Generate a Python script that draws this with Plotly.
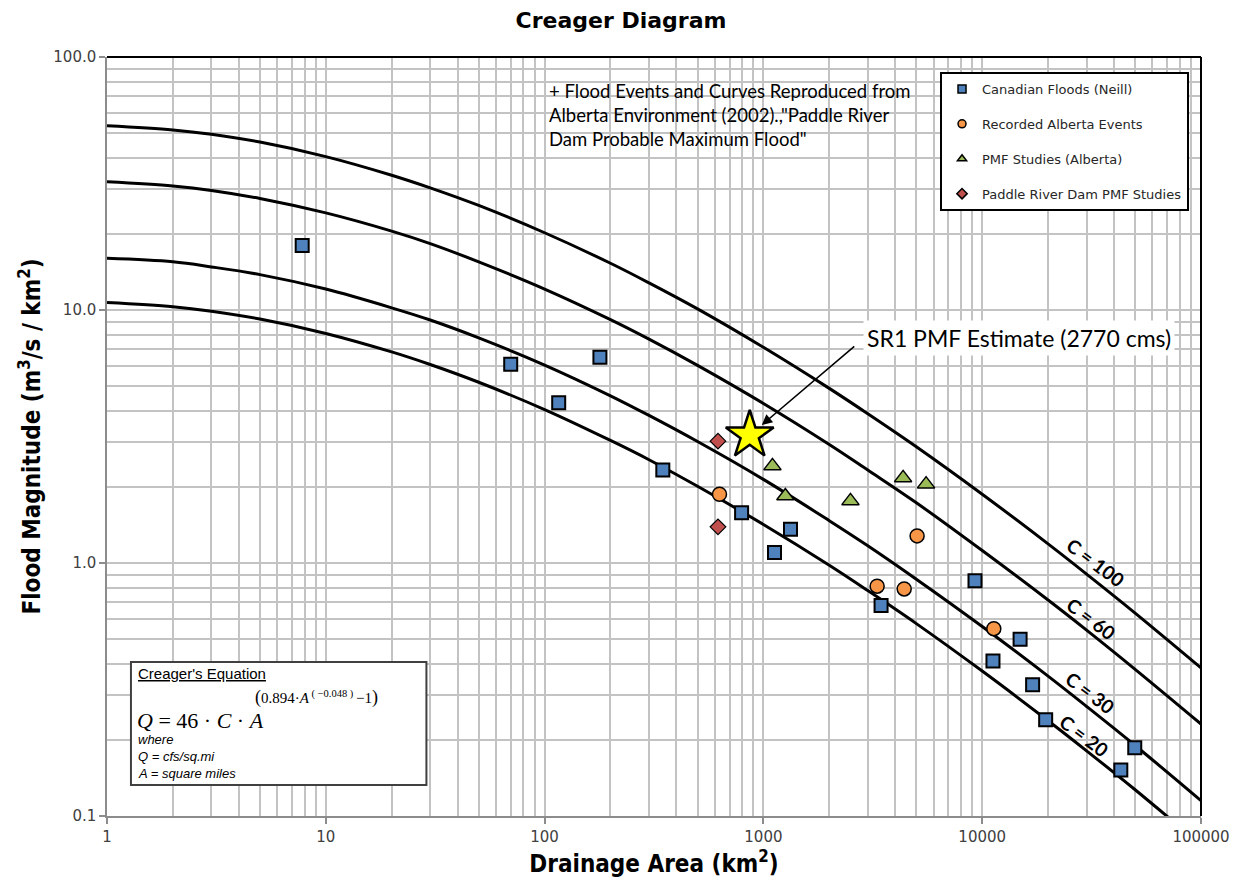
import plotly.graph_objects as go

# ---------------- data ----------------
# Creager envelope curves (m3/s/km2) read at these drainage areas (km2)
curve_area = [1, 2, 3, 5, 10, 20, 30, 50, 100, 200, 300, 500, 1000, 2000, 3000,
              5000, 10000, 20000, 30000, 50000, 100000]
curve_c100 = [53.5, 51.5, 49.5, 46.1, 40.4, 34.1, 30.4, 25.9, 20.2, 15.3, 12.8, 10.1,
              7.12, 4.90, 3.89, 2.88, 1.87, 1.19, 0.904, 0.634, 0.385]
curve_c60 = [32.1, 30.9, 29.7, 27.6, 24.2, 20.5, 18.3, 15.5, 12.1, 9.16, 7.67, 6.04,
             4.27, 2.94, 2.33, 1.73, 1.12, 0.714, 0.543, 0.380, 0.231]
curve_c30 = [16.0, 15.5, 14.8, 13.8, 12.1, 10.2, 9.13, 7.76, 6.06, 4.58, 3.83, 3.02,
             2.14, 1.47, 1.17, 0.863, 0.561, 0.357, 0.271, 0.190, 0.115]
curve_c20 = [10.7, 10.3, 9.89, 9.21, 8.08, 6.83, 6.09, 5.18, 4.04, 3.05, 2.56, 2.01,
             1.42, 0.980, 0.778, 0.576, 0.374, 0.238, 0.181, 0.127, 0.0769]
curve_names = ["C = 100", "C = 60", "C = 30", "C = 20"]

canadian_area = [7.8, 70, 116, 179, 347, 795, 1124, 1330, 3450, 9270, 11200, 14900,
                 17000, 19500, 43000, 49800]
canadian_q = [18.0, 6.1, 4.3, 6.5, 2.33, 1.58, 1.10, 1.36, 0.68, 0.85, 0.41, 0.50,
              0.33, 0.24, 0.152, 0.186]

alberta_area = [630, 5040, 3310, 4400, 11300]
alberta_q = [1.87, 1.28, 0.81, 0.79, 0.55]

pmf_area = [1100, 1260, 2500, 4350, 5540]
pmf_q = [2.42, 1.84, 1.76, 2.17, 2.05]

paddle_area = [620, 620]
paddle_q = [3.03, 1.39]

sr1_area = [866]
sr1_q = [3.2]

legend_names = ["Canadian Floods (Neill)", "Recorded Alberta Events",
                "PMF Studies (Alberta)", "Paddle River Dam PMF Studies"]

x_tick_vals = [1, 10, 100, 1000, 10000, 100000]
x_tick_text = ["1", "10", "100", "1000", "10000", "100000"]
y_tick_vals = [0.1, 1, 10, 100]
y_tick_text = ["0.1", "1.0", "10.0", "100.0"]

# ---------------- layout helpers (page pixel coords) ----------------
PAGE_W, PAGE_H = 1242, 888
OFF = 8  # default body margin of the html page
W, H = PAGE_W - OFF, PAGE_H - OFF
L, R, T, B = 107, 1203, 57, 816   # plot area in page pixels


def px(xp):
    return (xp - L) / (R - L)


def py(yp):
    return (B - yp) / (B - T)


minor_vals_x = [k * 10 ** d for d in range(0, 5) for k in range(2, 10)]
minor_vals_y = [k * 10 ** d for d in range(-1, 2) for k in range(2, 10)]

BLUE, ORANGE, GREEN, RED = "#4f81bd", "#f79646", "#9bbb59", "#c0504d"

fig = go.Figure()

for vals in [curve_c100, curve_c60, curve_c30, curve_c20]:
    fig.add_trace(go.Scatter(x=curve_area, y=vals, mode="lines",
                             line=dict(color="black", width=3, shape="spline"),
                             showlegend=False, hoverinfo="skip"))

fig.add_trace(go.Scatter(x=canadian_area, y=canadian_q, mode="markers", showlegend=False,
                         marker=dict(symbol="square", size=13, color=BLUE,
                                     line=dict(color="black", width=2))))
fig.add_trace(go.Scatter(x=alberta_area, y=alberta_q, mode="markers", showlegend=False,
                         marker=dict(symbol="circle", size=14, color=ORANGE,
                                     line=dict(color="black", width=1.5))))
fig.add_trace(go.Scatter(x=pmf_area, y=pmf_q, mode="markers", showlegend=False,
                         marker=dict(symbol="triangle-up", size=15, color=GREEN,
                                     line=dict(color="black", width=1.5))))
fig.add_trace(go.Scatter(x=paddle_area, y=paddle_q, mode="markers", showlegend=False,
                         marker=dict(symbol="diamond", size=12, color=RED,
                                     line=dict(color="black", width=1.2))))
fig.add_trace(go.Scatter(x=sr1_area, y=sr1_q, mode="markers", showlegend=False,
                         marker=dict(symbol="star", size=36, color="#ffff00",
                                     line=dict(color="black", width=2.5))))

# legend-only entries with small symbols
leg_styles = [("square", BLUE, 8), ("circle", ORANGE, 8), ("triangle-up", GREEN, 8),
              ("diamond", RED, 8)]
for i, (name, (sym, col, sz)) in enumerate(zip(legend_names, leg_styles)):
    fig.add_trace(go.Scatter(x=[None], y=[None], mode="markers", name=name,
                             legendgroup="g%d" % i,
                             marker=dict(symbol=sym, size=sz, color=col,
                                         line=dict(color="black", width=1.5))))

GRID = "#c3c3c3"
AXC = "#8c8c8c"
TICKFONT = dict(family="DejaVu Sans", size=15, color="#404040")
TITLEFONT = dict(family="Liberation Sans Narrow, DejaVu Sans Condensed, sans-serif",
                 size=24, color="black")

fig.update_layout(
    width=W, height=H, autosize=False,
    margin=dict(l=L - OFF, r=PAGE_W - R, t=T - OFF, b=PAGE_H - B),
    paper_bgcolor="white", plot_bgcolor="white",
    title=dict(text="<b>Creager Diagram</b>", x=(621 - OFF) / W, xref="container",
               xanchor="center", y=1 - (20 - OFF) / H, yanchor="middle", yref="container",
               font=dict(family="DejaVu Sans", size=22, color="black")),
    xaxis=dict(type="log", range=[0, 5], tickvals=x_tick_vals, ticktext=x_tick_text,
               showgrid=True, gridcolor=GRID, gridwidth=1.5,
               minor=dict(tickvals=minor_vals_x, showgrid=True, gridcolor=GRID,
                          gridwidth=1.5, ticks=""),
               showline=True, linecolor=AXC, linewidth=1.5,
               ticks="outside", ticklen=6, tickcolor=AXC, tickwidth=1.5,
               tickfont=TICKFONT, zeroline=False,
               title=dict(text="<b>Drainage Area (km<sup>2</sup>)</b>", font=TITLEFONT,
                          standoff=8)),
    yaxis=dict(type="log", range=[-1, 2], tickvals=y_tick_vals, ticktext=y_tick_text,
               showgrid=True, gridcolor=GRID, gridwidth=1.5,
               minor=dict(tickvals=minor_vals_y, showgrid=True, gridcolor=GRID,
                          gridwidth=1.5, ticks=""),
               showline=True, linecolor=AXC, linewidth=1.5,
               ticks="outside", ticklen=6, tickcolor=AXC, tickwidth=1.5,
               tickfont=TICKFONT, zeroline=False,
               title=dict(text="<b>Flood Magnitude (m<sup>3</sup>/s / km<sup>2</sup>)</b>",
                          font=TITLEFONT, standoff=6)),
    legend=dict(x=px(1191), y=py(72), xanchor="right", yanchor="top",
                bgcolor="white", bordercolor="black", borderwidth=2,
                font=dict(family="DejaVu Sans", size=13, color="#262626"),
                traceorder="grouped", tracegroupgap=15, itemwidth=30),
    showlegend=True,
)

# plot-area frame (top and right)
fig.add_shape(type="line", xref="paper", yref="paper", x0=0, x1=1, y0=1, y1=1,
              line=dict(color="black", width=2))
fig.add_shape(type="line", xref="paper", yref="paper", x0=1, x1=1, y0=0, y1=1,
              line=dict(color="black", width=2))

# curve labels
curve_label_pos = [(1098, 562), (1093, 618), (1092, 692), (1086, 735)]
for name, (xp, yp) in zip(curve_names, curve_label_pos):
    fig.add_annotation(text="<b>%s</b>" % name, xref="paper", yref="paper",
                       x=px(xp), y=py(yp), xanchor="center", yanchor="middle",
                       showarrow=False, textangle=37,
                       font=dict(family="Lato", size=19, color="black"))

# source note
fig.add_annotation(text="+ Flood Events and Curves Reproduced from<br>"
                        "Alberta Environment (2002).,\"Paddle River<br>"
                        "Dam Probable Maximum Flood\"",
                   xref="paper", yref="paper", x=px(548), y=py(78), xanchor="left",
                   yanchor="top", align="left", showarrow=False,
                   font=dict(family="Lato", size=18.5, color="black"))

# SR1 label and arrow
fig.add_annotation(text="SR1 PMF Estimate (2770 cms)", xref="paper", yref="paper",
                   x=px(864), y=py(338), xanchor="left", yanchor="middle",
                   showarrow=False, bgcolor="white", borderpad=3,
                   font=dict(family="Lato", size=23, color="black"))
fig.add_annotation(text="", xref="paper", yref="paper", x=px(763), y=py(425),
                   ax=857 - 763, ay=345 - 425, showarrow=True, arrowhead=2,
                   arrowsize=1.3, arrowwidth=1.6, arrowcolor="black")

# Creager's equation box
fig.add_shape(type="rect", xref="paper", yref="paper", x0=px(131), x1=px(427),
              y0=py(785), y1=py(662), fillcolor="white",
              line=dict(color="#404040", width=2), layer="above")
fig.add_annotation(text="<u>Creager's Equation</u>", xref="paper", yref="paper",
                   x=px(136), y=py(673), xanchor="left", yanchor="middle",
                   showarrow=False,
                   font=dict(family="Liberation Sans", size=15, color="black"))
fig.add_annotation(text="<i>Q</i> = 46 · <i>C</i> · <i>A</i>", xref="paper", yref="paper",
                   x=px(135), y=py(720), xanchor="left", yanchor="middle",
                   showarrow=False,
                   font=dict(family="Liberation Serif", size=22, color="black"))
fig.add_annotation(text="<span style='font-size:18px'>(</span>0.894·<i>A</i>"
                        "<sup> ( −0.048 ) </sup>−1"
                        "<span style='font-size:18px'>)</span>",
                   xref="paper", yref="paper", x=px(253), y=py(697), xanchor="left",
                   yanchor="middle", showarrow=False,
                   font=dict(family="Liberation Serif", size=15, color="black"))
for txt, yp in [("where", 739), ("Q = cfs/sq.mi", 756), ("A = square miles", 773)]:
    fig.add_annotation(text="<i>%s</i>" % txt, xref="paper", yref="paper",
                       x=px(136), y=py(yp), xanchor="left", yanchor="middle",
                       showarrow=False,
                       font=dict(family="Liberation Sans", size=13, color="black"))

fig.write_html("out.html")
